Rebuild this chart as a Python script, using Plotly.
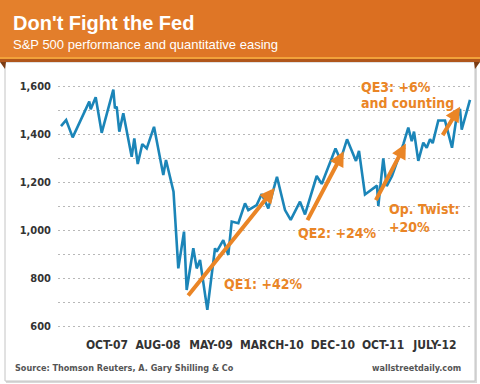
import plotly.graph_objects as go

# ---- data (months since Jan 2007, S&P 500 level) ----
months = [0.0, 0.9, 2.05, 4.96, 5.21, 6.09, 7.14, 9.18, 9.47, 9.77, 10.23, 10.93,
          12.40, 12.86, 13.46, 14.26, 15.04, 16.32, 17.95, 18.42, 19.74, 20.58,
          21.58, 22.05, 23.21, 23.81, 24.39, 25.67, 27.02, 27.32, 28.47, 29.35,
          29.95, 31.11, 32.28, 32.86, 34.33, 35.21, 36.37, 37.89, 39.30, 40.30,
          41.93, 42.81, 44.86, 45.74, 48.16, 49.04, 50.18, 51.75, 52.28, 53.33,
          55.44, 55.67, 56.54, 57.14, 58.07, 60.09, 60.93, 61.53, 61.93, 62.68,
          63.56, 64.16, 64.74, 65.21, 66.19, 67.37, 68.60, 69.30, 70.00, 70.30,
          71.75]
sp500 = [1433, 1458, 1386, 1535, 1503, 1553, 1405, 1585, 1507, 1514, 1410, 1486,
         1305, 1382, 1275, 1358, 1340, 1430, 1229, 1292, 1160, 840,
         993, 750, 924, 840, 875, 667, 924, 910, 958, 896,
         1035, 1028, 1111, 1083, 1104, 1150, 1090, 1222, 1083, 1042,
         1118, 1065, 1225, 1192, 1340, 1292, 1378, 1288, 1330, 1148,
         1185, 1100, 1298, 1183, 1225, 1360, 1427, 1370, 1410, 1288,
         1364, 1343, 1378, 1362, 1456, 1456, 1343, 1455, 1505, 1418,
         1542]

tick_months = [8.07, 17.02, 26.3, 37.0, 47.7, 56.5, 65.6]
tick_labels = ["OCT-07", "AUG-08", "MAY-09", "MARCH-10", "DEC-10", "OCT-11", "JULY-12"]
y_ticks = [600, 700, 800, 900, 1000, 1100, 1200, 1300, 1400, 1500, 1600]
y_labels = ["600", "", "800", "", "1,000", "", "1,200", "", "1,400", "", "1,600"]

# QE programmes: (label, start month, start level, end month, end level)
qe_names = ["QE1", "QE2", "Op. Twist", "QE3"]
qe_start_m = [22.1, 43.1, 55.1, 66.8]
qe_start_v = [721, 1035, 1118, 1389]
qe_end_m = [37.5, 49.6, 60.5, 70.0]
qe_end_v = [1175, 1328, 1360, 1514]
qe_labels = ["QE1: +42%", "QE2: +24%", "Op. Twist:<br>+20%", "QE3: +6%"]
qe_label_m = [28.2, 41.2, 57.2, 52.3]
qe_label_v = [775, 988, 1048, 1596]

W, H = 480, 384
L, R, T, B = 58, 8, 70, 49
PW, PH = W - L - R, H - T - B

def px(x):
    return (x - L) / PW

def py(y):
    return (H - B - y) / PH

ORANGE = "#EA8526"
BLUE = "#1B85B8"
NARROW = "DejaVu Sans Condensed, Roboto, sans-serif"

fig = go.Figure()
fig.add_trace(go.Scatter(x=months, y=sp500, mode="lines",
                         line=dict(color=BLUE, width=2.6), hoverinfo="skip"))

shapes = []
# shadow + white panel
shapes.append(dict(type="rect", xref="paper", yref="paper", x0=px(6), x1=px(477), y0=py(383), y1=py(62),
                   fillcolor="#d9d9d9", line=dict(width=0), layer="below"))
shapes.append(dict(type="rect", xref="paper", yref="paper", x0=px(5), x1=px(475), y0=py(381), y1=py(62),
                   fillcolor="white", line=dict(color="#c4c4c4", width=1), layer="below"))
# header gradient
n = 24
c0 = (228, 128, 44)
c1 = (216, 106, 30)
for i in range(n):
    f = i / (n - 1)
    col = "rgb(%d,%d,%d)" % tuple(round(a + (b - a) * f) for a, b in zip(c0, c1))
    shapes.append(dict(type="rect", xref="paper", yref="paper",
                       x0=px(W * i / n), x1=px(W * (i + 1) / n + 0.5), y0=py(59), y1=py(0),
                       fillcolor=col, line=dict(width=0), layer="below"))
shapes.append(dict(type="rect", xref="paper", yref="paper", x0=px(0), x1=px(W), y0=py(59), y1=py(57),
                   fillcolor="#F2A23A", line=dict(width=0), layer="below"))
shapes.append(dict(type="rect", xref="paper", yref="paper", x0=px(0), x1=px(W), y0=py(62), y1=py(59),
                   fillcolor="#B0561C", line=dict(width=0), layer="below"))
# folds
shapes.append(dict(type="path", xref="paper", yref="paper",
                   path="M %f,%f L %f,%f L %f,%f Z" % (px(0), py(62), px(6), py(62), px(5), py(69)),
                   fillcolor="#7a3c14", line=dict(width=0), layer="below"))
shapes.append(dict(type="path", xref="paper", yref="paper",
                   path="M %f,%f L %f,%f L %f,%f Z" % (px(474), py(62), px(480), py(62), px(475), py(69)),
                   fillcolor="#7a3c14", line=dict(width=0), layer="below"))

ann = []
ann.append(dict(text="<b>Don't Fight the Fed</b>", xref="paper", yref="paper", x=px(11), y=py(23),
                xanchor="left", yanchor="middle", showarrow=False,
                font=dict(family="Liberation Sans, Arial, sans-serif", size=20, color="white")))
ann.append(dict(text="S&P 500 performance and quantitative easing", xref="paper", yref="paper",
                x=px(11), y=py(44), xanchor="left", yanchor="middle", showarrow=False,
                font=dict(family="Liberation Sans, Arial, sans-serif", size=13, color="white")))
ann.append(dict(text="<b>Source: Thomson Reuters, A. Gary Shilling & Co</b>", xref="paper", yref="paper",
                x=px(13), y=py(368), xanchor="left", yanchor="middle", showarrow=False,
                font=dict(family=NARROW, size=9, color="#555555")))
ann.append(dict(text="<b>wallstreetdaily.com</b>", xref="paper", yref="paper",
                x=px(463), y=py(368), xanchor="right", yanchor="middle", showarrow=False,
                font=dict(family=NARROW, size=9, color="#555555")))

for i in range(len(qe_names)):
    ann.append(dict(x=qe_end_m[i], y=qe_end_v[i], ax=qe_start_m[i], ay=qe_start_v[i],
                    xref="x", yref="y", axref="x", ayref="y", text="", showarrow=True,
                    arrowhead=2, arrowsize=0.75, arrowwidth=4, arrowcolor=ORANGE, standoff=0))
    ann.append(dict(x=qe_label_m[i], y=qe_label_v[i], xref="x", yref="y", text="<b>%s</b>" % qe_labels[i],
                    xanchor="left", yanchor="middle", align="left", showarrow=False,
                    font=dict(family=NARROW, size=14, color=ORANGE)))
ann.append(dict(x=52.3, y=1529, xref="x", yref="y", text="<b>and counting</b>",
                xanchor="left", yanchor="middle", showarrow=False,
                font=dict(family=NARROW, size=14, color=ORANGE)))

fig.update_layout(
    width=W, height=H, margin=dict(l=L, r=R, t=T, b=B, autoexpand=False),
    paper_bgcolor="white", plot_bgcolor="rgba(0,0,0,0)",
    showlegend=False, shapes=shapes, annotations=ann,
    xaxis=dict(range=[(L - 61) / 5.7, (W - R - 61) / 5.7], tickvals=tick_months,
               ticktext=["<b>%s</b>" % t for t in tick_labels], tickangle=0,
               showgrid=False, zeroline=False, showline=False, ticks="",
               ticklabelstandoff=1, automargin=False,
               tickfont=dict(family=NARROW, size=12, color="#333333"), fixedrange=True),
    yaxis=dict(range=[562.5, 1666.7], tickvals=y_ticks, ticktext=["<b>%s</b>" % t for t in y_labels],
               showgrid=True, gridcolor="#b8b8b8", gridwidth=1, griddash="2px,3px",
               zeroline=False, showline=False, ticks="", ticklabelstandoff=6, automargin=False,
               tickfont=dict(family=NARROW, size=11, color="#333333"), fixedrange=True),
)
fig.write_html("out.html", config={"displayModeBar": False},
               post_script="document.body.style.margin='0';")
